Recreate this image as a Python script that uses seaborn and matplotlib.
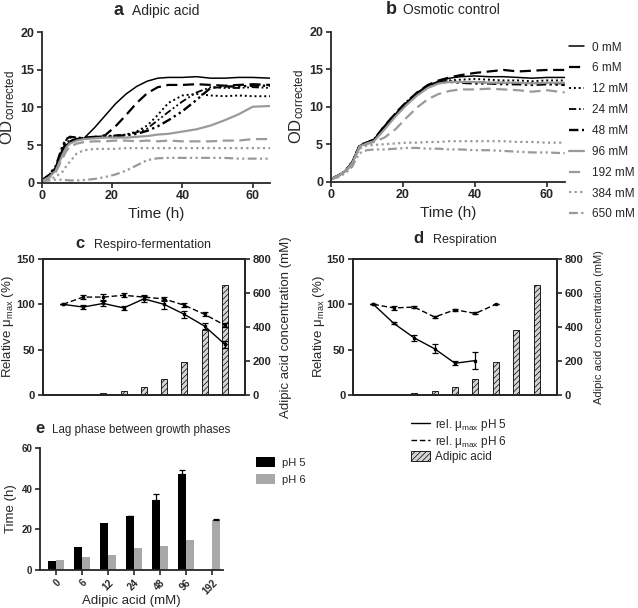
import numpy as np
import pandas as pd
import matplotlib
matplotlib.use("Agg")
import matplotlib.pyplot as plt
import seaborn as sns
from matplotlib.lines import Line2D
from matplotlib.patches import Patch

# ---- growth curves (values at these time points) ----
time_h = [0, 2, 4, 6, 7, 8, 10, 12, 15, 18, 21, 24, 27, 30, 33, 36, 40, 44, 48, 52, 56, 60, 65]
curve_labels = ["0 mM", "6 mM", "12 mM", "24 mM", "48 mM", "96 mM", "192 mM", "384 mM", "650 mM"]

# panel a: adipic acid
adip_0 = [0.2, 0.8, 1.8, 4.2, 5.0, 5.4, 5.7, 5.9, 7.3, 8.9, 10.5, 11.8, 12.8, 13.5, 13.9, 14.0, 14.0, 14.1, 13.9, 13.9, 14.0, 14.0, 13.9]
adip_6 = [0.2, 0.9, 2.0, 4.5, 5.2, 5.5, 5.8, 6.0, 6.1, 6.3, 7.5, 9.0, 10.6, 11.9, 12.7, 13.0, 13.0, 13.1, 13.0, 12.9, 13.0, 13.1, 13.0]
adip_12 = [0.2, 0.8, 1.9, 4.8, 5.7, 6.0, 6.0, 5.9, 6.0, 6.1, 6.2, 6.4, 6.8, 7.6, 9.0, 10.6, 11.6, 11.8, 11.6, 11.5, 11.6, 11.5, 11.5]
adip_24 = [0.3, 1.0, 2.1, 4.5, 5.4, 5.6, 5.8, 6.0, 6.1, 6.2, 6.3, 6.4, 6.7, 7.2, 8.3, 9.4, 10.8, 12.0, 12.7, 12.6, 12.6, 12.7, 12.6]
adip_48 = [0.3, 1.0, 2.2, 5.0, 5.8, 6.1, 6.0, 5.9, 6.0, 6.1, 6.2, 6.3, 6.5, 6.9, 7.5, 8.3, 9.5, 11.0, 12.6, 12.8, 12.8, 12.9, 12.9]
adip_96 = [0.2, 0.7, 1.6, 3.8, 4.7, 5.2, 5.6, 5.8, 5.9, 6.0, 6.0, 6.0, 6.1, 6.2, 6.4, 6.5, 6.8, 7.1, 7.6, 8.3, 9.1, 10.1, 10.2]
adip_192 = [0.2, 0.6, 1.4, 3.3, 4.2, 4.8, 5.2, 5.4, 5.5, 5.5, 5.6, 5.6, 5.5, 5.6, 5.5, 5.6, 5.5, 5.5, 5.5, 5.6, 5.6, 5.8, 5.8]
adip_384 = [0.2, 0.4, 0.8, 1.5, 2.2, 2.8, 3.9, 4.3, 4.5, 4.5, 4.5, 4.6, 4.6, 4.6, 4.6, 4.6, 4.6, 4.6, 4.6, 4.6, 4.6, 4.6, 4.6]
adip_650 = [0.2, 0.3, 0.4, 0.4, 0.35, 0.3, 0.3, 0.35, 0.5, 0.75, 1.1, 1.6, 2.3, 3.0, 3.25, 3.3, 3.3, 3.3, 3.3, 3.3, 3.2, 3.2, 3.2]

# panel b: osmotic control
osm_0 = [0.3, 0.8, 1.4, 2.6, 3.7, 4.8, 5.2, 5.6, 7.4, 9.0, 10.5, 11.8, 12.8, 13.4, 13.8, 14.0, 14.1, 14.0, 14.0, 13.9, 13.8, 13.9, 13.9]
osm_6 = [0.3, 0.8, 1.4, 2.6, 3.7, 4.9, 5.2, 5.6, 7.5, 9.1, 10.6, 11.9, 12.9, 13.5, 13.9, 14.2, 14.5, 14.7, 14.9, 14.7, 14.8, 14.9, 14.9]
osm_12 = [0.3, 0.8, 1.4, 2.6, 3.7, 4.8, 5.2, 5.6, 7.3, 9.0, 10.5, 11.8, 12.8, 13.3, 13.5, 13.6, 13.7, 13.6, 13.5, 13.5, 13.4, 13.5, 13.5]
osm_24 = [0.3, 0.8, 1.4, 2.6, 3.7, 4.8, 5.2, 5.6, 7.3, 9.0, 10.5, 11.8, 12.8, 13.3, 13.4, 13.3, 13.3, 13.2, 13.2, 13.1, 13.2, 13.1, 13.1]
osm_48 = [0.3, 0.8, 1.4, 2.6, 3.7, 4.8, 5.2, 5.6, 7.4, 9.1, 10.6, 11.8, 12.8, 13.3, 13.3, 13.2, 13.1, 13.1, 13.0, 13.0, 12.9, 13.0, 12.9]
osm_96 = [0.3, 0.8, 1.4, 2.5, 3.6, 4.7, 5.1, 5.4, 7.0, 8.7, 10.2, 11.5, 12.5, 13.1, 13.3, 13.3, 13.3, 13.2, 13.2, 13.2, 13.1, 13.2, 13.2]
osm_192 = [0.3, 0.7, 1.3, 2.3, 3.5, 4.5, 5.0, 5.3, 5.9, 7.0, 8.5, 9.9, 11.0, 11.7, 12.1, 12.3, 12.3, 12.4, 12.3, 12.2, 12.0, 12.2, 11.9]
osm_384 = [0.3, 0.7, 1.3, 2.3, 3.5, 4.4, 4.8, 4.9, 5.0, 5.1, 5.2, 5.2, 5.3, 5.3, 5.4, 5.4, 5.4, 5.4, 5.4, 5.3, 5.3, 5.2, 5.2]
osm_650 = [0.3, 0.6, 1.1, 2.0, 3.0, 3.8, 4.2, 4.3, 4.3, 4.4, 4.5, 4.5, 4.4, 4.4, 4.3, 4.3, 4.2, 4.2, 4.1, 4.0, 3.9, 3.9, 3.8]

# ---- relative growth rates (panels c, d) ----
bar_labels = ["0", "6", "12", "24", "48", "96", "192", "384", "650"]
bar_conc = [0, 6, 12, 24, 48, 96, 192, 384, 650]
rf_ph5 = [100, 97, 101, 96, 106, 100, 89, 76, 56]
rf_ph5_err = [0, 2, 3, 2, 3, 5, 4, 3, 4]
rf_ph6 = [100, 108, 108, 110, 108, 106, 99, 89, 77]
rf_ph6_err = [0, 2, 3, 2, 2, 2, 2, 2, 2]
resp_ph5 = [100, 79, 63, 51, 35, 38]
resp_ph5_err = [0, 1, 3, 5, 2, 9]
resp_ph6 = [100, 96, 97, 86, 94, 90, 100]
resp_ph6_err = [0, 2, 1, 1, 1, 1, 0]

# ---- lag phase (panel e) ----
lag_labels = ["0", "6", "12", "24", "48", "96", "192"]
lag_ph5 = [4.5, 11.2, 23.2, 26.5, 34.3, 47.2, np.nan]
lag_ph5_err = [0, 0, 0, 0.3, 3.3, 2.0, 0]
lag_ph6 = [5.0, 6.5, 7.5, 11.0, 12.0, 15.0, 24.7]
lag_ph6_err = [0, 0, 0, 0, 0, 0, 0.4]

sns.set_theme(style="ticks")
plt.rcParams["font.family"] = ["Liberation Sans", "DejaVu Sans"]
plt.rcParams["mathtext.fontset"] = "custom"
plt.rcParams["mathtext.rm"] = "Liberation Sans"
plt.rcParams["mathtext.it"] = "Liberation Sans:italic"
plt.rcParams["mathtext.bf"] = "Liberation Sans:bold"
plt.rcParams["hatch.linewidth"] = 0.5
plt.rcParams["axes.linewidth"] = 1.3

W, H = 638, 608
fig = plt.figure(figsize=(W / 100, H / 100), dpi=100)


def rect(x0, y_top, x1, y_bot):
    return [x0 / W, 1 - y_bot / H, (x1 - x0) / W, (y_bot - y_top) / H]


def title(xr, xl, yb, letter, text, s1, s2):
    fig.text(xr / W, 1 - yb / H, letter, ha="right", va="baseline", fontsize=s1, fontweight="bold")
    fig.text(xl / W, 1 - yb / H, text, ha="left", va="baseline", fontsize=s2)


def style_ticks(ax, size):
    ax.tick_params(direction="out", length=3.5, width=1.2, labelsize=size, pad=2)
    for lab in ax.get_xticklabels() + ax.get_yticklabels():
        lab.set_fontweight("bold")


black, gray = "#000000", "#9a9a9a"
dashdotdot = (0, (4, 1.5, 1, 1.5, 1, 1.5))
line_styles = [
    (black, "-", 1.1),
    (black, (0, (5, 2.5)), 1.6),
    (black, (0, (1, 1.5)), 1.4),
    (black, dashdotdot, 1.3),
    (black, dashdotdot, 1.7),
    (gray, "-", 1.6),
    (gray, (0, (5, 2.5)), 1.6),
    (gray, (0, (1, 1.5)), 1.6),
    (gray, dashdotdot, 1.6),
]

adip_curves = [adip_0, adip_6, adip_12, adip_24, adip_48, adip_96, adip_192, adip_384, adip_650]
osm_curves = [osm_0, osm_6, osm_12, osm_24, osm_48, osm_96, osm_192, osm_384, osm_650]

ax_a = fig.add_axes(rect(41.7, 32.3, 270.3, 182.7))
ax_b = fig.add_axes(rect(330.7, 31.7, 564.7, 181.7))
for ax, curves in [(ax_a, adip_curves), (ax_b, osm_curves)]:
    for vals, lab, (c, ls, lw) in zip(curves, curve_labels, line_styles):
        sns.lineplot(x=time_h, y=vals, ax=ax, color=c, linestyle=ls, linewidth=lw, label=lab, legend=False)
    ax.set_xlim(0, 65)
    ax.set_ylim(0, 20)
    ax.set_xticks([0, 20, 40, 60])
    ax.set_yticks([0, 5, 10, 15, 20])
    ax.set_xlabel("Time (h)", fontsize=11, labelpad=3)
    ax.set_ylabel(r"OD$_{\mathrm{corrected}}$", fontsize=12, labelpad=2)
    sns.despine(ax=ax)
    style_ticks(ax, 9)

title(123, 132, 15, "a", "Adipic acid", 13, 10)
title(397, 403, 14, "b", "Osmotic control", 13, 10)

handles = [Line2D([], [], color=c, linestyle=ls, linewidth=lw) for c, ls, lw in line_styles]
fig.legend(handles, curve_labels, loc="upper left", bbox_to_anchor=(558 / W, 1 - 31 / H),
           frameon=False, fontsize=8.5, handlelength=1.3, handletextpad=0.7, labelspacing=0.75)


# ---- panels c and d ----
def growth_panel(r, ph5, ph5_err, ph6, ph6_err, right_size, right_pad):
    ax = fig.add_axes(r)
    ax2 = ax.twinx()
    sns.barplot(x=bar_labels, y=bar_conc, ax=ax2, color="#d4d4d4", edgecolor="black",
                linewidth=0.6, hatch="//////", width=0.3, saturation=1)
    ax.set_zorder(ax2.get_zorder() + 1)
    ax.patch.set_visible(False)
    ax.errorbar(np.arange(len(ph5)), ph5, yerr=ph5_err, color="black", lw=1.0,
                elinewidth=0.9, capsize=2.2, capthick=0.9, marker="s", ms=2)
    ax.errorbar(np.arange(len(ph6)), ph6, yerr=ph6_err, color="black", lw=1.0, ls=(0, (4, 2)),
                elinewidth=0.9, capsize=2.2, capthick=0.9, marker="s", ms=2)
    ax.set_xlim(-1, 9)
    ax.set_ylim(0, 150)
    ax.set_yticks([0, 50, 100, 150])
    ax2.set_ylim(0, 800)
    ax2.set_yticks([0, 200, 400, 600, 800])
    for a in (ax, ax2):
        a.tick_params(axis="x", bottom=False, labelbottom=False)
        a.set_xlabel("")
    ax.set_ylabel(r"Relative μ$_{\mathrm{max}}$ (%)", fontsize=9.5, labelpad=0)
    ax2.set_ylabel("Adipic acid concentration (mM)", fontsize=right_size, labelpad=right_pad)
    style_ticks(ax, 8)
    style_ticks(ax2, 8)
    return ax


growth_panel(rect(42.7, 259, 245, 395), rf_ph5, rf_ph5_err, rf_ph6, rf_ph6_err, 9.5, 6)
ax_d = growth_panel(rect(353, 259, 557, 395), resp_ph5, resp_ph5_err, resp_ph6, resp_ph6_err, 8, 8)
title(85, 94, 248, "c", "Respiro-fermentation", 12, 9)
title(423, 433, 243, "d", "Respiration", 12, 9)

leg_handles = [
    Line2D([], [], color="black", lw=1.0),
    Line2D([], [], color="black", lw=1.0, ls=(0, (4, 2))),
    Patch(facecolor="#d4d4d4", edgecolor="black", linewidth=0.6, hatch="//////"),
]
leg_labels = [r"rel. μ$_{\mathrm{max}}$ pH 5", r"rel. μ$_{\mathrm{max}}$ pH 6", "Adipic acid"]
fig.legend(leg_handles, leg_labels, loc="upper left", bbox_to_anchor=(400 / W, 1 - 406 / H),
           frameon=False, fontsize=8.5, handlelength=1.6, handleheight=0.9,
           handletextpad=0.5, labelspacing=0.1)

# ---- panel e ----
lag_df = pd.DataFrame({
    "conc": lag_labels * 2,
    "time": lag_ph5 + lag_ph6,
    "pH": ["pH 5"] * len(lag_labels) + ["pH 6"] * len(lag_labels),
})
ax_e = fig.add_axes(rect(40, 448, 223, 570))
sns.barplot(data=lag_df, x="conc", y="time", hue="pH", ax=ax_e, palette=["#000000", "#a8a8a8"],
            width=0.62, gap=0, errorbar=None, linewidth=0, saturation=1)
for cont, errs in zip(ax_e.containers, [lag_ph5_err, lag_ph6_err]):
    for bar in cont:
        h = bar.get_height()
        if np.isnan(h):
            continue
        xc = bar.get_x() + bar.get_width() / 2
        i = int(round(xc))
        if errs[i] > 0:
            ax_e.errorbar(xc, h, yerr=[[0], [errs[i]]], color="black", elinewidth=0.9,
                          capsize=2.2, capthick=0.9)
ax_e.set_xlim(-0.62, 6.42)
ax_e.set_ylim(0, 60)
ax_e.set_yticks([0, 20, 40, 60])
ax_e.set_xlabel("Adipic acid (mM)", fontsize=9.5, labelpad=-1)
ax_e.set_ylabel("Time (h)", fontsize=9.5, labelpad=3)
sns.despine(ax=ax_e)
style_ticks(ax_e, 7)
for lab in ax_e.get_xticklabels():
    lab.set_rotation(45)
    lab.set_ha("right")
    lab.set_rotation_mode("anchor")
h_e, l_e = ax_e.get_legend_handles_labels()
ax_e.legend(h_e, l_e, loc="upper left", bbox_to_anchor=(246 / W, 1 - 447 / H),
            bbox_transform=fig.transFigure, frameon=False, fontsize=8,
            handlelength=1.7, handleheight=1.0, handletextpad=0.6, labelspacing=0.55)
title(45, 52, 433, "e", "Lag phase between growth phases", 12, 8.3)

fig.savefig("out.png", dpi=100)
